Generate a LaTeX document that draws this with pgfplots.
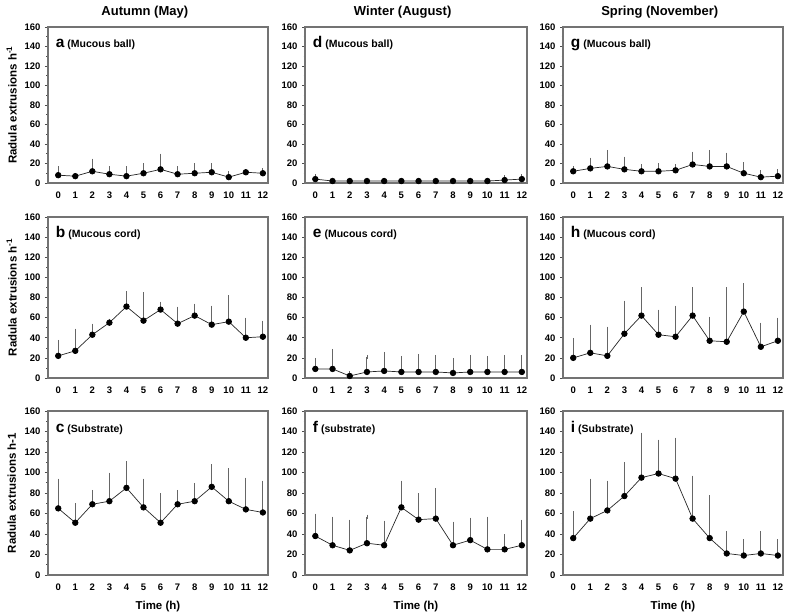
\documentclass[border=0pt]{standalone}
\usepackage{pgfplots}
\pgfplotsset{compat=1.18}
\usepackage{pgfplotstable}
\usepackage{fontspec}
\setmainfont{Liberation Sans}

% mean and upper error (SD) per hour
\pgfplotstableread{
x y e
0 8 7
1 7 0
2 12 11
3 9 6
4 7 8
5 10 8
6 14 14
7 9 6
8 10 8
9 11 7
10 6 4
11 11 1
12 10 3
}\tabA
\pgfplotstableread{
x y e
0 22 14
1 27 20
2 43 9
3 55 2
4 71 13
5 57 26
6 68 6
7 54 15
8 62 10
9 53 17
10 56 24
11 40 18
12 41 14
}\tabB
\pgfplotstableread{
x y e
0 65 27
1 51 17
2 69 12
3 72 26
4 85 24
5 66 26
6 51 27
7 69 12
8 72 16
9 86 20
10 72 30
11 64 29
12 61 29
}\tabC
\pgfplotstableread{
x y e
0 4 3
1 2 1.5
2 2 1.5
3 2 1.5
4 2 1.5
5 2 1.5
6 2 1.5
7 2 1.5
8 2 1.5
9 2 1.5
10 2 1.5
11 3 3
12 4 3
}\tabD
\pgfplotstableread{
x y e
0 9 9
1 9 18
2 2 3
3 6 15
4 7 17
5 6 14
6 6 16
7 6 15
8 5 13
9 6 15
10 6 14
11 6 15
12 6 15
}\tabE
\pgfplotstableread{
x y e
0 38 20
1 29 26
2 24 28
3 31 26
4 29 22
5 66 24
6 54 24
7 55 28
8 29 21
9 34 20
10 25 30
11 25 13
12 29 23
}\tabF
\pgfplotstableread{
x y e
0 12 3
1 15 9
2 17 15
3 14 11
4 12 5
5 12 6
6 13 4
7 19 11
8 17 15
9 17 12
10 10 9
11 6 5
12 7 5
}\tabG
\pgfplotstableread{
x y e
0 20 18
1 25 26
2 22 27
3 44 31
4 62 26
5 43 23
6 41 29
7 62 26
8 37 22
9 36 52
10 66 26
11 31 22
12 37 21
}\tabH
\pgfplotstableread{
x y e
0 36 24
1 55 37
2 63 27
3 77 31
4 95 42
5 99 31
6 94 38
7 55 40
8 36 40
9 21 20
10 19 14
11 21 20
12 19 14
}\tabI

\pgfplotsset{
  panel/.style={
    scale only axis, anchor=south west,
    xmin=-0.6, xmax=12.3, ymin=0, ymax=160,
    xtick={0,...,12}, ytick={0,20,...,160},
    minor y tick num=1,
    axis line style={black!55, line width=1.1pt},
    ytick pos=left, tick align=outside,
    xtick style={draw=none},
    ytick style={black!70, line width=0.6pt},
    minor tick length=1.5pt, major tick length=3pt,
    /pgf/number format/assume math mode=true,
    ticklabel style={font=\fontsize{9.5}{10}\selectfont\bfseries},
    yticklabel style={xshift=-1pt},
    xticklabel style={yshift=-2pt},
    label style={font=\fontsize{11.5}{12}\selectfont\bfseries},
    every axis title shift=0pt,
    title style={font=\fontsize{13}{14}\selectfont\bfseries,
      at={(axis description cs:0.44,1.095)}, anchor=center},
    ylabel style={at={(axis description cs:-0.165,0.5)}, anchor=center},
    xlabel style={at={(axis description cs:0.5,-0.19)}, anchor=center},
  },
  series/.style={black!85, line width=0.7pt,
    mark=*, mark size=2.8pt, mark options={black, fill=black},
    error bars/.cd, y dir=plus, y explicit,
    error bar style={black!60, line width=1pt},
    error mark=-,
    error mark options={black!60, mark size=2pt, line width=0.8pt, rotate=0}},
}
\newcommand{\plab}[2]{\node[anchor=base west, inner sep=0pt] at (rel axis cs:0.035,0.87)
  {\fontsize{15.5}{15}\selectfont\bfseries #1\fontsize{10.5}{11}\selectfont\ (#2)};}

\begin{document}
\begin{tikzpicture}
\path[use as bounding box] (0,0) rectangle (785pt,615pt);

% column 1
\begin{axis}[panel, at={(48pt,432pt)}, width=220pt, height=156pt,
  title={Autumn (May)}, ylabel={Radula extrusions h\textsuperscript{-1}}]
\addplot[series] table[x=x, y=y, y error=e] {\tabA};
\plab{a}{Mucous ball}
\end{axis}
\begin{axis}[panel, at={(48pt,237pt)}, width=220pt, height=161pt,
  ylabel={Radula extrusions h\textsuperscript{-1}}]
\addplot[series] table[x=x, y=y, y error=e] {\tabB};
\plab{b}{Mucous cord}
\end{axis}
\begin{axis}[panel, at={(48pt,40pt)}, width=220pt, height=164pt,
  ylabel={Radula extrusions h-1}, xlabel={Time (h)}]
\addplot[series] table[x=x, y=y, y error=e] {\tabC};
\plab{c}{Substrate}
\end{axis}

% column 2
\begin{axis}[panel, at={(305pt,432pt)}, width=222pt, height=156pt,
  title={Winter (August)}]
\addplot[series] table[x=x, y=y, y error=e] {\tabD};
\plab{d}{Mucous ball}
\end{axis}
\begin{axis}[panel, at={(305pt,237pt)}, width=222pt, height=161pt]
\addplot[series] table[x=x, y=y, y error=e] {\tabE};
\plab{e}{Mucous cord}
\end{axis}
\begin{axis}[panel, at={(305pt,40pt)}, width=222pt, height=164pt,
  xlabel={Time (h)}]
\addplot[series] table[x=x, y=y, y error=e] {\tabF};
\plab{f}{substrate}
\end{axis}

% column 3
\begin{axis}[panel, at={(563pt,432pt)}, width=220pt, height=156pt,
  title={Spring (November)}]
\addplot[series] table[x=x, y=y, y error=e] {\tabG};
\plab{g}{Mucous ball}
\end{axis}
\begin{axis}[panel, at={(563pt,237pt)}, width=220pt, height=161pt]
\addplot[series] table[x=x, y=y, y error=e] {\tabH};
\plab{h}{Mucous cord}
\end{axis}
\begin{axis}[panel, at={(563pt,40pt)}, width=220pt, height=164pt,
  xlabel={Time (h)}]
\addplot[series] table[x=x, y=y, y error=e] {\tabI};
\plab{i}{Substrate}
\end{axis}
\end{tikzpicture}
\end{document}
